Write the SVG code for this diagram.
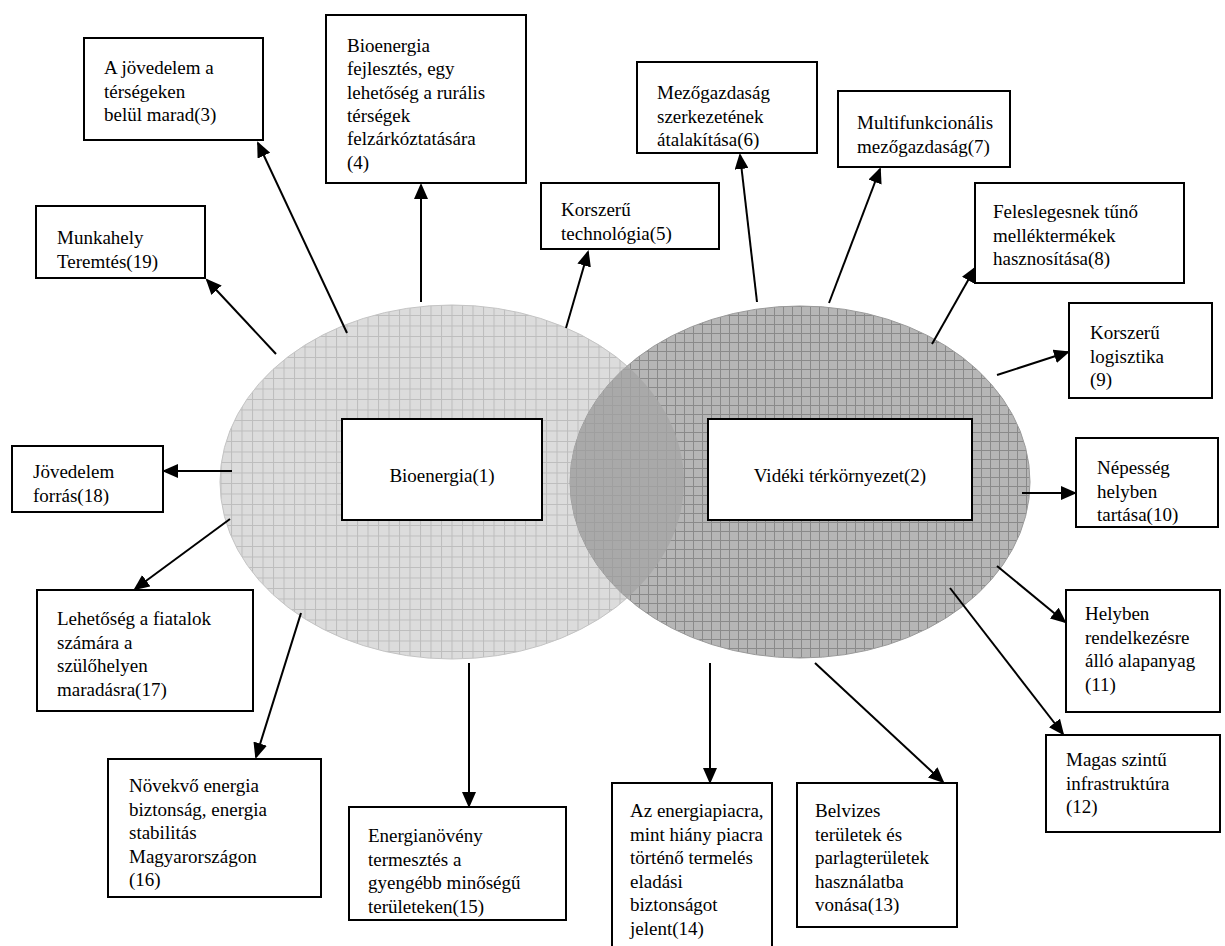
<svg xmlns="http://www.w3.org/2000/svg" width="1225" height="946" viewBox="0 0 1225 946">
<style>
.box{fill:#fff;stroke:#000;stroke-width:2}
.t{font-family:'Liberation Serif','Times New Roman','DejaVu Serif',serif;font-size:19px;fill:#000}
.c{stroke:#000;stroke-width:2;fill:none;marker-end:url(#ah)}
</style>
<defs>
<marker id="ah" markerWidth="16" markerHeight="14" refX="14" refY="7" orient="auto" markerUnits="userSpaceOnUse">
<path d="M0,0 L16,7 L0,14 Z" fill="#000"/>
</marker>
<pattern id="pL" width="10.5" height="10.5" patternUnits="userSpaceOnUse">
<rect width="10.5" height="10.5" fill="#dcdcdc"/>
<path d="M0,0.5 H10.5 M0.5,0 V10.5" stroke="#bdbdbd" stroke-width="1"/>
</pattern>
<pattern id="pR" width="9" height="9" patternUnits="userSpaceOnUse">
<rect width="9" height="9" fill="#b6b6b6"/>
<path d="M0,0.5 H9 M0.5,0 V9" stroke="#8a8a8a" stroke-width="1"/>
</pattern>
<pattern id="pM" width="9" height="9" patternUnits="userSpaceOnUse">
<rect width="9" height="9" fill="#a9a9a9"/>
<path d="M0,0.5 H9 M0.5,0 V9" stroke="#9f9f9f" stroke-width="1"/>
</pattern>
<clipPath id="clipR"><ellipse cx="800" cy="482" rx="230" ry="176"/></clipPath>
</defs>

<g id="ellipses">
<ellipse id="ellipse-left" cx="452" cy="482" rx="232" ry="177" fill="url(#pL)" stroke="#c4c4c4" stroke-width="1"/>
<ellipse id="ellipse-right" cx="800" cy="482" rx="230" ry="176" fill="url(#pR)" stroke="#9a9a9a" stroke-width="1"/>
<ellipse id="lens" cx="452" cy="482" rx="232" ry="177" fill="url(#pM)" clip-path="url(#clipR)"/>
</g>

<g id="connectors">
<line class="c" x1="347" y1="333" x2="258" y2="143"/>
<line class="c" x1="421" y1="302" x2="421" y2="185"/>
<line class="c" x1="566" y1="328" x2="588" y2="252"/>
<line class="c" x1="757" y1="302" x2="740" y2="155"/>
<line class="c" x1="829" y1="303" x2="880" y2="169"/>
<line class="c" x1="276" y1="354" x2="207" y2="280"/>
<line class="c" x1="932" y1="344" x2="975" y2="268"/>
<line class="c" x1="997" y1="375" x2="1068" y2="352"/>
<line class="c" x1="1022" y1="493" x2="1075" y2="493"/>
<line class="c" x1="232" y1="471" x2="164" y2="471"/>
<line class="c" x1="230" y1="519" x2="135" y2="589"/>
<line class="c" x1="301" y1="613" x2="256" y2="757"/>
<line class="c" x1="469" y1="663" x2="469" y2="806"/>
<line class="c" x1="710" y1="663" x2="710" y2="782"/>
<line class="c" x1="815" y1="663" x2="943" y2="782"/>
<line class="c" x1="950" y1="588" x2="1063" y2="734"/>
<line class="c" x1="997" y1="566" x2="1065" y2="622"/>
</g>

<g font-family="'Liberation Serif', 'Times New Roman', 'DejaVu Serif', serif" font-size="19">
<g id="n1"><rect class="box" x="342" y="419" width="200" height="101"/><text class="t" x="442" y="482" text-anchor="middle">Bioenergia(1)</text></g>
<g id="n2"><rect class="box" x="708" y="419" width="264" height="101"/><text class="t" x="840" y="482" text-anchor="middle">Vidéki térkörnyezet(2)</text></g>

<g id="n3"><rect class="box" x="84" y="38" width="179" height="102"/>
<text class="t" y="74"><tspan x="104">A jövedelem a</tspan><tspan x="104" dy="23.5">térségeken</tspan><tspan x="104" dy="23.5">belül marad(3)</tspan></text></g>

<g id="n4"><rect class="box" x="326" y="15" width="200" height="168"/>
<text class="t" y="52"><tspan x="347">Bioenergia</tspan><tspan x="347" dy="23.3">fejlesztés, egy</tspan><tspan x="347" dy="23.3">lehetőség a rurális</tspan><tspan x="347" dy="23.3">térségek</tspan><tspan x="347" dy="23.3">felzárkóztatására</tspan><tspan x="347" dy="23.3">(4)</tspan></text></g>

<g id="n5"><rect class="box" x="541" y="183" width="178" height="66"/>
<text class="t" y="216"><tspan x="561">Korszerű</tspan><tspan x="561" dy="23.5">technológia(5)</tspan></text></g>

<g id="n6"><rect class="box" x="637" y="62" width="180" height="91"/>
<text class="t" y="99"><tspan x="657">Mezőgazdaság</tspan><tspan x="657" dy="23.5">szerkezetének</tspan><tspan x="657" dy="23.5">átalakítása(6)</tspan></text></g>

<g id="n7"><rect class="box" x="838" y="91" width="172" height="76"/>
<text class="t" y="129"><tspan x="857">Multifunkcionális</tspan><tspan x="857" dy="23.5">mezőgazdaság(7)</tspan></text></g>

<g id="n8"><rect class="box" x="975" y="183" width="209" height="100"/>
<text class="t" y="218"><tspan x="993">Feleslegesnek tűnő</tspan><tspan x="993" dy="23.5">melléktermékek</tspan><tspan x="993" dy="23.5">hasznosítása(8)</tspan></text></g>

<g id="n9"><rect class="box" x="1069" y="303" width="143" height="95"/>
<text class="t" y="339"><tspan x="1090">Korszerű</tspan><tspan x="1090" dy="23.5">logisztika</tspan><tspan x="1090" dy="23.5">(9)</tspan></text></g>

<g id="n10"><rect class="box" x="1076" y="438" width="142" height="89"/>
<text class="t" y="474"><tspan x="1097">Népesség</tspan><tspan x="1097" dy="23.5">helyben</tspan><tspan x="1097" dy="23.5">tartása(10)</tspan></text></g>

<g id="n11"><rect class="box" x="1066" y="590" width="154" height="122"/>
<text class="t" y="620"><tspan x="1085">Helyben</tspan><tspan x="1085" dy="23.5">rendelkezésre</tspan><tspan x="1085" dy="23.5">álló alapanyag</tspan><tspan x="1085" dy="23.5">(11)</tspan></text></g>

<g id="n12"><rect class="box" x="1046" y="735" width="174" height="97"/>
<text class="t" y="766"><tspan x="1066">Magas szintű</tspan><tspan x="1066" dy="23.5">infrastruktúra</tspan><tspan x="1066" dy="23.5">(12)</tspan></text></g>

<g id="n13"><rect class="box" x="797" y="783" width="160" height="144"/>
<text class="t" y="817"><tspan x="815">Belvizes</tspan><tspan x="815" dy="23.5">területek és</tspan><tspan x="815" dy="23.5">parlagterületek</tspan><tspan x="815" dy="23.5">használatba</tspan><tspan x="815" dy="23.5">vonása(13)</tspan></text></g>

<g id="n14"><rect class="box" x="612" y="783" width="160" height="175"/>
<text class="t" y="817"><tspan x="630">Az energiapiacra,</tspan><tspan x="630" dy="23.5">mint hiány piacra</tspan><tspan x="630" dy="23.5">történő termelés</tspan><tspan x="630" dy="23.5">eladási</tspan><tspan x="630" dy="23.5">biztonságot</tspan><tspan x="630" dy="23.5">jelent(14)</tspan></text></g>

<g id="n15"><rect class="box" x="349" y="807" width="217" height="113"/>
<text class="t" y="842"><tspan x="368">Energianövény</tspan><tspan x="368" dy="23.5">termesztés a</tspan><tspan x="368" dy="23.5">gyengébb minőségű</tspan><tspan x="368" dy="23.5">területeken(15)</tspan></text></g>

<g id="n16"><rect class="box" x="108" y="759" width="213" height="138"/>
<text class="t" y="792"><tspan x="129">Növekvő energia</tspan><tspan x="129" dy="23.5">biztonság, energia</tspan><tspan x="129" dy="23.5">stabilitás</tspan><tspan x="129" dy="23.5">Magyarországon</tspan><tspan x="129" dy="23.5">(16)</tspan></text></g>

<g id="n17"><rect class="box" x="37" y="590" width="216" height="121"/>
<text class="t" y="625"><tspan x="57">Lehetőség a fiatalok</tspan><tspan x="57" dy="23.5">számára a</tspan><tspan x="57" dy="23.5">szülőhelyen</tspan><tspan x="57" dy="23.5">maradásra(17)</tspan></text></g>

<g id="n18"><rect class="box" x="12" y="446" width="151" height="66"/>
<text class="t" y="478"><tspan x="33">Jövedelem</tspan><tspan x="33" dy="23.5">forrás(18)</tspan></text></g>

<g id="n19"><rect class="box" x="36" y="206" width="169" height="72"/>
<text class="t" y="244"><tspan x="57">Munkahely</tspan><tspan x="57" dy="23.5">Teremtés(19)</tspan></text></g>
</g>
</svg>
